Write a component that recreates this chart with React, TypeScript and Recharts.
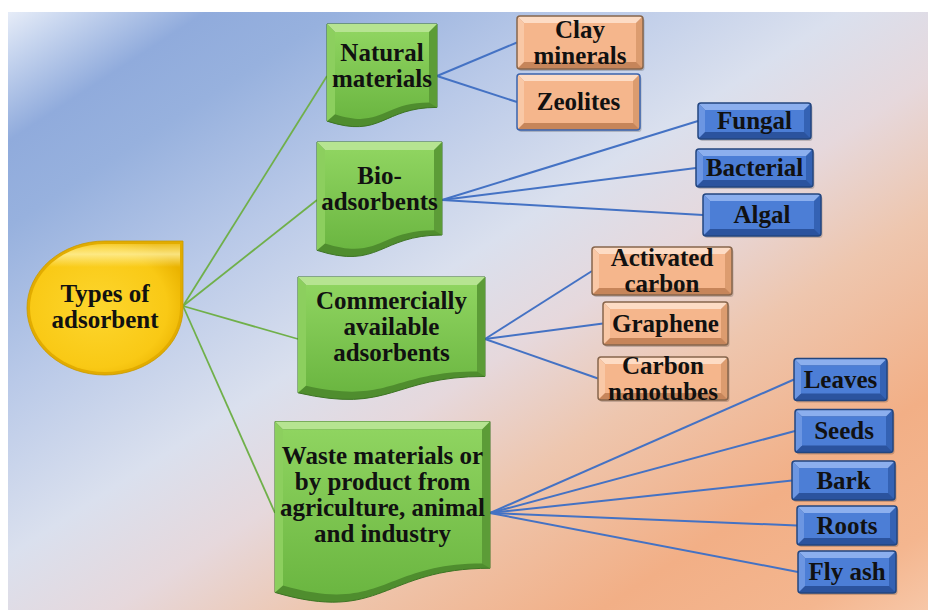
import React from 'react';
import { ScatterChart, Scatter, XAxis, YAxis, ReferenceArea, ReferenceLine } from 'recharts';

// root of the tree
const rootLabel = 'Types of\nadsorbent';
const rootX = 105;
const rootY = 308;

// first level (green document shapes)
const groupLabels = [
  'Natural\nmaterials',
  'Bio-\nadsorbents',
  'Commercially\navailable\nadsorbents',
  'Waste materials or\nby product from\nagriculture, animal\nand industry',
];
const groupX = [382, 379.5, 391.5, 382.5];
const groupY = [76, 200, 339, 513];

// second level (bevel boxes)
const itemLabels = [
  'Clay\nminerals', 'Zeolites',
  'Fungal', 'Bacterial', 'Algal',
  'Activated\ncarbon', 'Graphene', 'Carbon\nnanotubes',
  'Leaves', 'Seeds', 'Bark', 'Roots', 'Fly ash',
];
const itemParent = [0, 0, 1, 1, 1, 2, 2, 2, 3, 3, 3, 3, 3];
const itemX = [580, 578.5, 754.5, 754.5, 762, 662, 665.5, 663, 840.5, 844, 843.5, 847, 847];
const itemY = [42.5, 102, 121, 168, 215, 271, 323.5, 378.5, 379.5, 431, 480.5, 525.5, 572];

// sizes (px) and styles
const rootSize = { w: 156, h: 134 };
const groupW = [110, 125, 187, 215];
const groupH = [104, 116, 124, 183];
const itemW = [126, 123, 113, 117, 118, 140, 125, 130, 93, 98, 103, 100, 98];
const itemH = [53, 56, 36, 38, 42, 48, 43, 43, 42, 43, 39, 39, 42];
const itemKind = ['peach', 'peachBlue', 'blue', 'blue', 'blue', 'peach', 'peach', 'peach', 'blue', 'blue', 'blue', 'blue', 'blue'];

const palettes: Record<string, any> = {
  peach: { face: '#f5b68c', top: '#fddcc5', left: '#f9c8a6', right: '#dc9c6f', bottom: '#c6855a', stroke: '#86654c' },
  peachBlue: { face: '#f5b68c', top: '#fddcc5', left: '#f9c8a6', right: '#dc9c6f', bottom: '#c6855a', stroke: '#3a63ad' },
  blue: { face: '#4c7ed6', top: '#8cafee', left: '#6c96e2', right: '#3462b4', bottom: '#2b539e', stroke: '#23467f' },
};

const FONT = '"Liberation Serif", "Times New Roman", serif';

const rootData = [{ x: rootX, y: rootY, label: rootLabel }];
const groupData = groupLabels.map((label, i) => ({ x: groupX[i], y: groupY[i], label, i }));
const itemData = itemLabels.map((label, i) => ({ x: itemX[i], y: itemY[i], label, i }));

const Label = ({ text, cx, cy, size = 25, lh = 26 }: any) => {
  const lines = text.split('\n');
  const first = cy - ((lines.length - 1) * lh) / 2 + size * 0.33;
  return (
    <text x={cx} textAnchor="middle" fontFamily={FONT} fontWeight="bold" fontSize={size} fill="#111">
      {lines.map((l: string, k: number) => (
        <tspan key={k} x={cx} y={first + k * lh}>{l}</tspan>
      ))}
    </text>
  );
};

const RootShape = (props: any) => {
  const { cx, cy, payload } = props;
  const drop = (inset: number) => {
    const rx = rootSize.w / 2 - inset;
    const ry = rootSize.h / 2 - inset;
    const l = cx - rx, r = cx + rx, t = cy - ry, b = cy + ry;
    return `M ${cx} ${t} L ${r} ${t} L ${r} ${cy} A ${rx} ${ry} 0 0 1 ${cx} ${b} A ${rx} ${ry} 0 0 1 ${l} ${cy} A ${rx} ${ry} 0 0 1 ${cx} ${t} Z`;
  };
  return (
    <g>
      <path d={drop(0)} fill="#e2ac00" stroke="#c99a00" strokeWidth={0.8} />
      <path d={drop(3)} fill="url(#rootFace)" />
      <path d={drop(3)} fill="url(#rootShine)" />
      <Label text={payload.label} cx={cx} cy={cy - 1} />
    </g>
  );
};

const docPath = (l: number, t: number, w: number, h: number) => {
  const r = l + w;
  return `M ${l} ${t} L ${r} ${t} L ${r} ${t + 0.802 * h} C ${l + w / 2} ${t + 0.802 * h} ${l + w / 2} ${t + 1.1075 * h} ${l} ${t + 0.934 * h} Z`;
};

const GroupShape = (props: any) => {
  const { cx, cy, payload } = props;
  const w = groupW[payload.i];
  const h = groupH[payload.i];
  const l = cx - w / 2, t = cy - h / 2, r = cx + w / 2;
  const i = 8;
  const ih = h - 2 * i;
  return (
    <g>
      <path d={docPath(l, t, w, h)} fill="#4f8d2e" stroke="#3d7424" strokeWidth={1} />
      <polygon points={`${l},${t} ${l + i},${t + i} ${l + i},${t + i + 0.934 * ih} ${l},${t + 0.934 * h}`} fill="#8ccf5e" />
      <polygon points={`${r},${t} ${r},${t + 0.802 * h} ${r - i},${t + i + 0.802 * ih} ${r - i},${t + i}`} fill="#5c9c37" />
      <polygon points={`${l},${t} ${r},${t} ${r - i},${t + i} ${l + i},${t + i}`} fill="#b6e491" />
      <path d={docPath(l + i, t + i, w - 2 * i, ih)} fill="url(#greenFace)" />
      <Label text={payload.label} cx={cx} cy={t + 0.4 * h} />
    </g>
  );
};

const ItemShape = (props: any) => {
  const { cx, cy, payload } = props;
  const w = itemW[payload.i];
  const h = itemH[payload.i];
  const p = palettes[itemKind[payload.i]];
  const l = cx - w / 2, t = cy - h / 2, r = cx + w / 2, b = cy + h / 2;
  const i = 7;
  return (
    <g>
      <rect x={l + 1.5} y={t + 2} width={w} height={h} rx={3} fill="#000" fillOpacity={0.18} />
      <rect x={l} y={t} width={w} height={h} rx={3} fill={p.bottom} />
      <polygon points={`${l},${t} ${l + i},${t + i} ${l + i},${b - i} ${l},${b}`} fill={p.left} />
      <polygon points={`${r},${t} ${r},${b} ${r - i},${b - i} ${r - i},${t + i}`} fill={p.right} />
      <polygon points={`${l},${t} ${r},${t} ${r - i},${t + i} ${l + i},${t + i}`} fill={p.top} />
      <rect x={l + i} y={t + i} width={w - 2 * i} height={h - 2 * i} fill={p.face} />
      <rect x={l} y={t} width={w} height={h} rx={3} fill="none" stroke={p.stroke} strokeWidth={1.5} />
      <Label text={payload.label} cx={cx} cy={cy} />
    </g>
  );
};

const greenEdges = groupData.map((g) => [
  { x: rootX + rootSize.w / 2, y: rootY - 2 },
  { x: g.x - groupW[g.i] / 2, y: g.y },
]);
const blueEdges = itemData.map((it) => {
  const p = itemParent[it.i];
  return [
    { x: groupX[p] + groupW[p] / 2, y: groupY[p] },
    { x: it.x - itemW[it.i] / 2, y: it.y },
  ];
});

export default function App() {
  return (
    <div style={{ margin: '-8px 0 0 -8px', width: 936, height: 610, background: '#fff' }}>
      <svg width={0} height={0} style={{ position: 'absolute' }}>
        <defs>
          <linearGradient id="bgGrad" gradientUnits="userSpaceOnUse" x1={0} y1={0} x2={558} y2={857}>
            <stop offset="0%" stopColor="#f2f5fb" />
            <stop offset="5%" stopColor="#c8d6ef" />
            <stop offset="12%" stopColor="#90abdc" />
            <stop offset="19%" stopColor="#97b1de" />
            <stop offset="32%" stopColor="#b9c9e8" />
            <stop offset="46%" stopColor="#dae0ee" />
            <stop offset="56%" stopColor="#e6d8dc" />
            <stop offset="67%" stopColor="#eec6ae" />
            <stop offset="82%" stopColor="#f2af86" />
            <stop offset="93%" stopColor="#f4b68f" />
            <stop offset="100%" stopColor="#f7c8a9" />
          </linearGradient>
          <linearGradient id="greenFace" x1="0" y1="0" x2="0" y2="1">
            <stop offset="0%" stopColor="#8fd460" />
            <stop offset="100%" stopColor="#6bb641" />
          </linearGradient>
          <radialGradient id="rootFace" cx="0.45" cy="0.5" r="0.62">
            <stop offset="0%" stopColor="#fdd62e" />
            <stop offset="75%" stopColor="#f9c915" />
            <stop offset="100%" stopColor="#eab300" />
          </radialGradient>
          <linearGradient id="rootShine" x1="0" y1="0" x2="0" y2="1">
            <stop offset="0%" stopColor="#fff3a8" stopOpacity={0.2} />
            <stop offset="8%" stopColor="#fff3a8" stopOpacity={0.75} />
            <stop offset="18%" stopColor="#fff3a8" stopOpacity={0} />
            <stop offset="100%" stopColor="#fff3a8" stopOpacity={0} />
          </linearGradient>
        </defs>
      </svg>
      <ScatterChart width={936} height={610} margin={{ top: 0, right: 0, bottom: 0, left: 0 }}>
        <XAxis type="number" dataKey="x" domain={[0, 936]} hide allowDataOverflow />
        <YAxis type="number" dataKey="y" domain={[0, 610]} reversed hide allowDataOverflow />
        <ReferenceArea x1={8} x2={936} y1={12} y2={610} fill="url(#bgGrad)" fillOpacity={1} stroke="none" ifOverflow="visible" />
        {greenEdges.map((seg, k) => (
          <ReferenceLine key={`g${k}`} segment={seg} stroke="#70b04a" strokeWidth={1.8} ifOverflow="visible" />
        ))}
        {blueEdges.map((seg, k) => (
          <ReferenceLine key={`b${k}`} segment={seg} stroke="#4472c4" strokeWidth={2} ifOverflow="visible" />
        ))}
        <Scatter data={rootData} shape={RootShape} isAnimationActive={false} />
        <Scatter data={groupData} shape={GroupShape} isAnimationActive={false} />
        <Scatter data={itemData} shape={ItemShape} isAnimationActive={false} />
      </ScatterChart>
    </div>
  );
}
